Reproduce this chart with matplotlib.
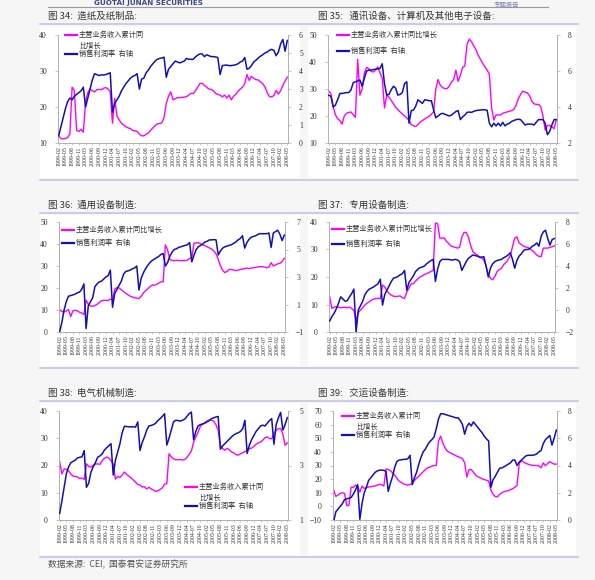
import matplotlib
matplotlib.use("Agg")
import matplotlib.pyplot as plt
from matplotlib.lines import Line2D
from matplotlib.patches import Rectangle

plt.rcParams['font.family'] = ['Noto Sans CJK SC', 'DejaVu Sans']

# months: Feb..Dec each year (Jan merged into Feb), 1999-02 .. 2008-05
months = []
for yr in range(1999, 2009):
    for mo in range(2, 13):
        if yr == 2008 and mo > 5:
            break
        months.append(f"{yr}-{mo:02d}")
tick_labels = months[::3]

rev_label = "主营业务收入累计同比增长"
margin_label = "销售利润率  右轴"

# 图34 造纸及纸制品
paper_rev = [11.8, 11.3, 11.1, 11.3, 11.5, 12.5, 25.5, 24.5, 13.5, 13.2, 13.8, 13.0, 21.5, 24.0, 25.0, 24.5,
             24.2, 24.8, 24.9, 24.8, 25.2, 25.4, 25.0, 24.3, 15.5, 22.4, 17.5, 16.4, 15.5, 15.0, 14.5, 14.2,
             14.0, 13.5, 13.4, 13.2, 12.5, 12.0, 12.0, 12.4, 12.8, 13.5, 14.2, 14.8, 15.3, 15.4, 15.6, 17.0,
             21.0, 23.0, 24.2, 22.0, 22.3, 22.6, 22.6, 22.7, 22.7, 22.9, 23.3, 23.8, 23.7, 24.5, 25.5, 26.5,
             26.6, 26.0, 25.5, 25.0, 24.9, 24.5, 23.8, 23.5, 23.3, 22.8, 23.3, 22.5, 23.3, 22.0, 23.0, 23.5,
             24.4, 25.0, 25.5, 26.5, 29.0, 27.4, 28.5, 28.0, 27.6, 27.5, 27.0, 26.5, 25.6, 24.0, 22.9, 22.8,
             23.2, 24.6, 23.6, 24.5, 26.0, 27.2, 28.3]
paper_margin = [0.4, 0.9, 1.4, 1.9, 2.3, 2.5, 2.4, 2.6, 2.7, 2.8, 2.9, 3.1, 2.0, 2.5, 3.0, 3.5,
                3.85, 3.8, 3.75, 3.78, 3.78, 3.8, 3.85, 3.9, 1.7, 2.2, 2.4, 2.6, 2.9, 3.1, 3.3, 3.45,
                3.6, 3.7, 3.75, 3.85, 3.0, 3.55, 3.6, 3.9, 4.05, 4.25, 4.4, 4.55, 4.65, 4.7, 4.72, 4.77,
                3.65, 4.1, 4.25, 4.4, 4.55, 4.5, 4.45, 4.5, 4.55, 4.7, 4.65, 4.65, 4.65, 4.78, 4.88, 4.95,
                4.95, 4.8, 4.9, 4.85, 4.8, 4.8, 4.78, 4.75, 3.8, 4.3, 4.32, 4.33, 4.3, 4.3, 4.32, 4.35,
                4.4, 4.5, 4.55, 4.75, 4.1, 4.15, 4.3, 4.5, 4.6, 4.72, 4.82, 4.9, 5.0, 5.05, 5.15, 5.2,
                5.15, 4.85, 5.05, 5.5, 5.75, 5.1, 5.7]

# 图35 通讯设备、计算机及其他电子设备
elec_rev = [29.3, 28.3, 23.5, 20.5, 19.0, 18.3, 17.0, 20.0, 21.0, 21.3, 21.5, 20.5, 19.5, 41.0, 27.7, 30.0,
            36.0, 38.0, 37.5, 36.5, 36.3, 37.0, 38.2, 36.0, 34.0, 23.0, 27.7, 27.0, 25.8, 24.5, 23.2, 22.4,
            21.5, 20.8, 20.0, 19.3, 18.3, 16.8, 16.4, 16.1, 16.8, 17.8, 18.3, 18.9, 19.4, 19.9, 20.6, 21.6,
            30.0, 33.5, 31.4, 30.5, 30.2, 30.1, 31.0, 32.6, 33.5, 37.0, 32.8, 35.0, 38.0, 38.5, 46.5, 48.5,
            47.5, 46.0, 44.5, 42.5, 41.0, 39.5, 38.2, 37.0, 35.5, 23.0, 18.5, 20.4, 20.4, 20.4, 21.0, 21.3,
            21.5, 21.8, 22.0, 22.5, 24.0, 26.5, 28.0, 29.2, 28.8, 28.6, 27.5, 25.5, 24.5, 24.3, 24.3, 23.5,
            20.0, 14.8, 16.5, 16.5, 16.0, 15.3, 18.6]
elec_margin = [4.65, 4.6, 4.0, 4.1, 4.4, 4.75, 4.75, 4.78, 4.8, 4.8, 4.95, 5.35, 5.4, 5.45, 5.5, 5.15,
               5.6, 6.0, 6.05, 6.05, 6.08, 6.1, 6.12, 6.15, 6.4, 5.3, 4.66, 4.7, 4.95, 5.15, 5.05, 4.66,
               4.7, 4.8, 5.3, 5.4, 3.1, 3.8, 3.83, 4.05, 4.4, 4.3, 4.2, 4.4, 4.38, 4.35, 4.35, 3.85,
               3.4, 3.5, 3.6, 3.65, 3.6, 3.55, 3.5, 3.55, 3.65, 3.75, 3.8, 3.3, 3.45, 3.55, 3.7, 3.72,
               3.7, 3.76, 3.8, 3.82, 3.83, 3.85, 3.84, 3.82, 3.1, 2.9, 3.1, 2.95, 3.1, 2.95, 3.15, 2.95,
               3.05, 3.1, 3.2, 3.25, 3.3, 3.32, 3.3, 3.15, 3.0, 3.05, 3.05, 3.05, 3.0, 3.15, 3.3, 3.3,
               3.3, 3.1, 2.46, 2.64, 3.0, 3.3, 3.3]

# 图36 通用设备制造
gen_rev = [10.2, 9.3, 9.1, 9.6, 10.2, 7.0, 9.6, 9.9, 9.6, 9.0, 8.6, 8.0, 14.5, 12.6, 11.8, 11.7,
           12.0, 12.6, 13.4, 14.2, 14.4, 14.4, 14.3, 15.0, 14.5, 19.5, 20.2, 20.0, 19.2, 18.4, 17.6, 16.9,
           16.3, 15.9, 15.6, 15.4, 15.3, 16.2, 17.7, 18.8, 19.6, 20.6, 21.3, 21.3, 21.6, 22.3, 22.8, 22.8,
           39.6, 37.3, 33.0, 32.5, 32.5, 32.6, 32.5, 32.4, 32.5, 32.5, 32.7, 33.4, 33.8, 40.4, 40.5, 40.6,
           40.1, 39.6, 39.2, 38.7, 38.2, 37.7, 36.8, 35.5, 33.0, 30.0, 28.0, 27.0, 27.6, 28.4, 28.4, 28.2,
           27.9, 28.1, 28.4, 28.6, 28.8, 29.0, 28.8, 29.1, 29.2, 29.4, 29.6, 29.7, 29.7, 29.5, 29.2, 29.5,
           31.5, 30.0, 30.5, 31.0, 31.2, 32.0, 33.5]
gen_margin = [-1.0, -0.3, 0.6, 1.2, 1.6, 1.65, 1.7, 1.75, 1.85, 1.9, 2.1, 2.5, -0.75, 0.9, 1.2, 1.5,
              2.3, 2.5, 2.65, 2.7, 2.85, 3.0, 3.1, 3.5, 0.8, 1.8, 2.1, 2.4, 2.7, 3.2, 3.4, 3.45,
              3.5, 3.6, 3.65, 3.8, 2.05, 2.9, 3.3, 3.6, 3.85, 4.05, 4.2, 4.3, 4.4, 4.5, 4.65, 4.7,
              3.8, 4.05, 4.5, 4.8, 5.0, 5.05, 5.15, 5.2, 5.25, 5.3, 5.35, 5.5, 4.1, 4.6, 5.0, 5.2,
              5.3, 5.4, 5.55, 5.6, 5.7, 5.7, 5.72, 5.7, 4.6, 4.9, 5.1, 5.2, 5.25, 5.3, 5.35, 5.45,
              5.55, 5.7, 5.8, 6.0, 5.1, 5.5, 5.75, 5.9, 5.95, 6.0, 6.1, 6.15, 6.15, 6.15, 6.15, 6.2,
              5.15, 6.2, 6.3, 6.4, 6.1, 5.65, 6.05]

# 图37 专用设备制造
spec_rev = [12.8, 8.6, 9.0, 9.2, 9.0, 8.8, 9.0, 9.0, 8.8, 9.0, 8.6, 7.8, 4.3, 7.0, 8.0, 8.8,
            9.8, 10.5, 11.0, 11.6, 12.0, 12.1, 12.3, 12.1, 17.1, 16.4, 15.0, 14.0, 13.4, 13.0, 12.9, 13.0,
            13.1, 12.5, 12.2, 14.5, 16.0, 17.5, 17.6, 18.5, 19.3, 20.0, 20.4, 20.9, 21.2, 21.6, 22.0, 22.4,
            39.6, 39.4, 34.2, 34.1, 34.2, 33.0, 32.2, 31.3, 31.0, 30.8, 30.5, 30.8, 34.5, 36.2, 36.2, 34.5,
            31.5, 29.2, 28.5, 28.0, 27.4, 26.8, 26.2, 24.0, 20.9, 19.5, 19.0, 20.2, 22.0, 22.7, 23.2, 24.5,
            25.2, 26.3, 27.8, 31.0, 34.1, 34.6, 32.4, 31.8, 31.2, 30.9, 30.8, 30.1, 29.6, 28.9, 28.0, 27.5,
            27.4, 30.5, 30.5, 30.5, 30.8, 31.0, 31.3]
spec_margin = [-1.0, -0.6, -0.3, 0.1, 0.6, 1.2, 1.0, 0.8, 0.85, 1.2, 1.5, 1.9, -2.0, 0.0, 0.4, 0.8,
               1.4, 1.7, 1.9, 2.0, 2.1, 2.25, 2.4, 2.8, 0.45, 1.4, 1.8, 2.2, 2.6, 2.9, 2.95, 3.05,
               3.2, 3.3, 3.6, 1.8, 2.5, 2.8, 3.1, 3.5, 3.7, 3.85, 3.9, 4.0, 4.2, 4.35, 4.5, 4.6,
               2.6, 3.7, 4.4, 4.6, 4.6, 4.6, 4.6, 4.55, 4.55, 4.6, 4.55, 4.4, 3.6, 4.0, 4.4, 4.7,
               4.85, 5.0, 4.95, 4.9, 4.8, 4.8, 4.85, 4.0, 3.0, 3.8, 4.2, 4.4, 4.5, 4.55, 4.6, 4.75,
               4.85, 5.0, 5.2, 4.6, 3.8, 4.5, 4.9, 5.1, 5.4, 5.5, 5.5, 5.6, 5.8, 5.9, 6.1, 5.8,
               6.7, 7.1, 7.25, 6.5, 5.9, 6.4, 6.5]

# 图38 电气机械制造
elmach_rev = [21.3, 16.9, 18.7, 18.6, 18.0, 16.9, 16.1, 16.0, 15.8, 15.2, 15.4, 14.9, 20.6, 19.7, 19.4, 20.1,
              20.5, 20.6, 20.4, 21.7, 22.6, 23.1, 22.8, 21.8, 20.5, 15.0, 16.0, 15.6, 16.5, 17.6, 16.7, 16.1,
              15.5, 14.7, 13.9, 13.0, 12.8, 12.1, 12.2, 11.4, 12.0, 11.4, 11.0, 10.5, 10.7, 11.2, 11.8, 13.2,
              13.3, 24.3, 23.2, 22.5, 22.1, 22.1, 22.2, 22.0, 22.2, 22.9, 24.1, 25.3, 28.5, 30.5, 32.2, 34.3,
              35.3, 35.7, 36.3, 36.7, 36.6, 36.3, 35.0, 33.0, 27.4, 26.2, 25.6, 26.3, 25.8, 25.0, 24.6, 24.0,
              23.8, 24.3, 24.7, 25.1, 25.5, 26.2, 26.4, 27.0, 27.8, 28.3, 28.6, 29.3, 30.2, 30.5, 29.9, 29.8,
              31.8, 32.9, 33.5, 33.6, 31.5, 27.4, 28.3]
elmach_margin = [1.24, 1.7, 2.2, 2.7, 2.95, 3.1, 3.15, 3.2, 3.28, 3.3, 3.32, 3.55, 2.2, 2.35, 2.75, 2.95,
                 3.1, 3.3, 3.35, 3.42, 3.56, 3.65, 3.72, 3.8, 2.65, 3.2, 3.5, 3.8, 4.2, 4.44, 4.43, 4.42,
                 4.42, 4.42, 4.41, 4.6, 3.55, 3.85, 4.05, 4.3, 4.45, 4.47, 4.5, 4.55, 4.65, 4.72, 4.8, 4.9,
                 3.75, 4.0, 4.3, 4.6, 4.66, 4.65, 4.63, 4.66, 4.7, 4.8, 4.9, 4.96, 3.95, 4.25, 4.45, 4.5,
                 4.52, 4.55, 4.6, 4.65, 4.72, 4.75, 4.78, 4.8, 3.6, 3.72, 3.8, 3.88, 3.97, 4.05, 4.12, 4.17,
                 4.2, 4.25, 4.35, 4.66, 3.44, 3.75, 3.95, 4.1, 4.25, 4.35, 4.45, 4.48, 4.45, 4.55, 4.65, 4.72,
                 3.78, 4.5, 4.75, 4.95, 4.3, 4.5, 4.76]

# 图39 交运设备制造
trans_rev = [12.0, 7.3, 8.3, 9.5, 10.0, 9.5, 0.5, 0.8, 14.0, 14.0, 15.6, 14.5, 10.5, 14.9, 13.2, 13.8,
             14.2, 14.4, 14.8, 15.0, 15.6, 16.2, 15.8, 15.0, 27.5, 27.0, 26.3, 24.5, 22.8, 20.5, 18.5, 17.5,
             16.5, 16.0, 15.6, 16.1, 16.8, 19.0, 20.8, 22.0, 23.8, 25.4, 27.0, 28.2, 28.8, 29.5, 30.0, 30.0,
             48.0, 51.5, 46.5, 43.0, 40.6, 39.6, 38.8, 38.0, 37.2, 36.4, 35.8, 35.1, 32.0, 21.5, 27.0, 27.0,
             25.0, 23.0, 21.8, 21.0, 20.3, 19.6, 19.2, 18.6, 12.0, 9.0, 7.2, 7.0, 8.8, 9.9, 10.8, 11.2,
             11.6, 12.2, 13.0, 14.0, 15.5, 31.5, 33.5, 32.5, 31.6, 31.0, 30.4, 30.2, 30.0, 30.0, 29.7, 28.3,
             31.9, 29.8, 31.5, 32.8, 31.8, 31.0, 31.0]
trans_margin = [-0.1, 0.6, 0.8, 1.0, 1.2, 1.5, 1.55, 1.6, 1.65, 1.9, 2.2, 2.6, 0.05, 1.2, 2.0, 2.4,
                2.9, 3.1, 3.3, 3.5, 3.6, 3.66, 3.66, 3.65, 3.55, 2.1, 2.7, 3.2, 3.9, 4.3, 4.4, 4.42,
                4.45, 4.45, 4.5, 4.75, 2.6, 3.1, 3.5, 4.1, 4.6, 5.0, 5.2, 5.5, 5.75, 5.9, 6.1, 6.7,
                7.4, 7.8, 7.8, 7.75, 7.7, 7.65, 7.6, 7.55, 7.5, 7.5, 7.3, 7.0, 6.3, 6.85, 7.1, 6.9,
                7.2, 7.0, 6.8, 6.6, 6.4, 6.15, 5.95, 5.8, 2.4, 2.95, 3.2, 3.5, 3.8, 3.82, 3.9, 4.0,
                4.1, 4.2, 4.4, 4.4, 4.0, 4.25, 4.4, 4.55, 4.7, 4.75, 4.75, 4.75, 4.78, 4.85, 5.0, 5.1,
                5.6, 5.9, 6.05, 6.2, 5.5, 6.0, 6.6]

W, H = 595, 580
MAGENTA = '#ff00ff'
BLUE = '#1010b8'
LINE_C = '#c4c4e8'
TXT = '#333333'

fig = plt.figure(figsize=(W / 100, H / 100), dpi=100)
fig.patch.set_facecolor('#f6f6f6')


def fx(x):
    return x / W


def fy(y):
    return 1 - y / H


def hline(x0, x1, y, color=LINE_C, lw=1.2):
    fig.add_artist(Line2D([fx(x0), fx(x1)], [fy(y), fy(y)], color=color, lw=lw))


# white chart areas
for top, bot in [(27, 178), (215, 366), (403, 555)]:
    fig.add_artist(Rectangle((fx(40), fy(bot)), fx(300) - fx(40), fy(top) - fy(bot),
                             facecolor='white', edgecolor='none', zorder=0))
    fig.add_artist(Rectangle((fx(308), fy(bot)), fx(576) - fx(308), fy(top) - fy(bot),
                             facecolor='white', edgecolor='none', zorder=0))

# header strip
hline(48, 548, 7, color='#9a9a9a', lw=0.8)
fig.text(fx(94), fy(0.5), "GUOTAI JUNAN SECURITIES", fontsize=5.2, fontweight='bold',
         color='#3a4a8a', va='top', ha='left', family=['DejaVu Sans'])
fig.text(fx(494), fy(0.5), "专题报告", fontsize=4.6, color='#7080b0', va='top', ha='left')

# separator lines
for y in [24, 180, 213, 368, 401, 557]:
    hline(40, 578, y)

titles = [("图 34:  造纸及纸制品:", 48, 16), ("图 35:   通讯设备、计算机及其他电子设备:", 318, 16),
          ("图 36:  通用设备制造:", 48, 205), ("图 37:   专用设备制造:", 318, 205),
          ("图 38:  电气机械制造:", 48, 393), ("图 39:   交运设备制造:", 318, 393)]
for t, x, y in titles:
    fig.text(fx(x), fy(y), t, fontsize=6.8, color=TXT, va='center', ha='left')

fig.text(fx(48), fy(565), "数据来源:  CEI,  国泰君安证券研究所", fontsize=6.3, color='#555555',
         va='center', ha='left')

panels = [
    # box px (x0, x1, ytop, ybot), series, axis limits, ticks, legend (x, y1, y2, wrapped)
    dict(box=(58, 288, 35, 143), rev=paper_rev, mar=paper_margin, ll=(10, 40), rl=(0, 6),
         lt=[10, 20, 30, 40], rt=[0, 1, 2, 3, 4, 5, 6], leg=(65, 35, 54, True)),
    dict(box=(328, 557, 35, 143), rev=elec_rev, mar=elec_margin, ll=(10, 50), rl=(2, 8),
         lt=[10, 20, 30, 40, 50], rt=[2, 4, 6, 8], leg=(337, 35, 51, False)),
    dict(box=(59, 285, 222, 332), rev=gen_rev, mar=gen_margin, ll=(0, 50), rl=(-1, 7),
         lt=[0, 10, 20, 30, 40, 50], rt=[-1, 1, 3, 5, 7], leg=(62, 230, 243, False)),
    dict(box=(329, 555, 222, 332), rev=spec_rev, mar=spec_margin, ll=(0, 40), rl=(-2, 8),
         lt=[0, 10, 20, 30, 40], rt=[-2, 0, 2, 4, 6, 8], leg=(332, 229, 244, False)),
    dict(box=(59, 288, 411, 520), rev=elmach_rev, mar=elmach_margin, ll=(0, 40), rl=(1, 5),
         lt=[0, 10, 20, 30, 40], rt=[1, 3, 5], leg=(185, 487, 506, True)),
    dict(box=(333, 557, 411, 520), rev=trans_rev, mar=trans_margin, ll=(-10, 70), rl=(0, 8),
         lt=[-10, 0, 10, 20, 30, 40, 50, 60, 70], rt=[0, 2, 4, 6, 8], leg=(342, 416, 435, True)),
]

xs = list(range(len(months)))
tick_pos = xs[::3]

for p in panels:
    x0, x1, yt, yb = p['box']
    ax = fig.add_axes([fx(x0), fy(yb), fx(x1) - fx(x0), fy(yt) - fy(yb)])
    ax.patch.set_alpha(0)
    ax2 = ax.twinx()
    ax.plot(xs, p['rev'], color=MAGENTA, lw=1.0, zorder=3)
    ax2.plot(xs, p['mar'], color=BLUE, lw=1.1, zorder=3)
    ax.set_xlim(-0.3, len(months) - 0.7)
    ax.set_ylim(*p['ll'])
    ax2.set_ylim(*p['rl'])
    ax.set_yticks(p['lt'])
    ax2.set_yticks(p['rt'])
    ax.set_xticks(tick_pos)
    ax.set_xticklabels(tick_labels, rotation=90, fontsize=4.2, family=['Liberation Serif'], color=TXT)
    for a in (ax, ax2):
        a.spines['top'].set_visible(False)
        for s in ['left', 'right', 'bottom']:
            a.spines[s].set_color('#b0b0b0')
            a.spines[s].set_linewidth(0.6)
        a.tick_params(axis='y', labelsize=5.5, length=2, width=0.5, colors='#b0b0b0',
                      labelcolor=TXT, pad=6)
        for lab in a.get_yticklabels():
            lab.set_family(['Liberation Serif'])
    ax.tick_params(axis='x', length=1.5, width=0.5, colors='#b0b0b0', labelcolor=TXT, pad=1)

    # legend
    lx, ly1, ly2, wrap = p['leg']
    fig.add_artist(Line2D([fx(lx), fx(lx + 12)], [fy(ly1), fy(ly1)], color=MAGENTA, lw=1.6))
    fig.add_artist(Line2D([fx(lx), fx(lx + 12)], [fy(ly2), fy(ly2)], color=BLUE, lw=1.6))
    if wrap:
        fig.text(fx(lx + 14), fy(ly1), rev_label[:9], fontsize=5.2, color=TXT, va='center')
        fig.text(fx(lx + 14), fy(ly1 + 11), rev_label[9:], fontsize=5.2, color=TXT, va='center')
    else:
        fig.text(fx(lx + 14), fy(ly1), rev_label, fontsize=5.2, color=TXT, va='center')
    fig.text(fx(lx + 14), fy(ly2), margin_label, fontsize=5.2, color=TXT, va='center')

fig.savefig("out.png", dpi=100, facecolor=fig.get_facecolor())
